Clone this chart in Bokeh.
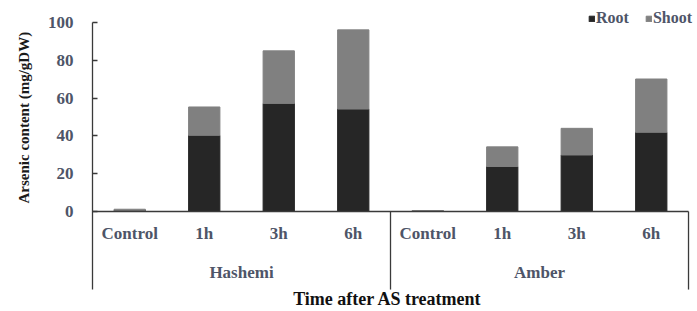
from bokeh.plotting import figure
from bokeh.models import Range1d, FixedTicker, Title, Legend, LegendItem, ColumnDataSource
from bokeh.core.properties import value
from bokeh.embed import file_html
from bokeh.resources import INLINE

# ---- data ----
cultivars = ["Hashemi", "Amber"]
times = ["Control", "1h", "3h", "6h"]
root_hashemi = [0.6, 40.3, 57.2, 54.2]
shoot_hashemi = [0.6, 15.0, 27.8, 41.9]
root_amber = [0.3, 23.8, 29.9, 41.9]
shoot_amber = [0.2, 10.4, 14.1, 28.2]
series = ["Root", "Shoot"]
y_ticks = [0, 20, 40, 60, 80, 100]
y_title = "Arsenic content (mg/gDW)"
x_title = "Time after AS treatment"

# ---- styles ----
colors = ["#262626", "#808080"]
FONT = "Liberation Serif"
LABEL_COLOR = "#4e5568"
AXIS_COLOR = "#3a3a3a"
LBL = "17px"
TTL = "18px"

n = len(times)
xs, labels = [], []
for g, c in enumerate(cultivars):
    for j, t in enumerate(times):
        xs.append(g * n + j + 0.5)
        labels.append(t)

source = ColumnDataSource(dict(
    x=xs,
    label=labels,
    Root=root_hashemi + root_amber,
    Shoot=shoot_hashemi + shoot_amber,
))

total = n * len(cultivars)
W, H = 697, 311
LEFT = 91
px_per_unit = (688 - LEFT) / total
x_end = (W - LEFT) / px_per_unit
py = (211 - 22) / 100.0
y_top = 211 / py
y_bot = -(H - 211) / py

p = figure(width=W, height=H,
           x_range=Range1d(0, x_end), y_range=Range1d(y_bot, y_top),
           output_backend="svg", toolbar_location=None, x_axis_type=None,
           min_border_left=LEFT, min_border_right=0, min_border_top=0, min_border_bottom=0)
p.outline_line_color = None
p.grid.grid_line_color = None

renderers = p.vbar_stack(series, x="x", width=0.42, source=source,
                         fill_color=colors, line_color=colors)

# y axis
ax = p.yaxis[0]
ax.ticker = FixedTicker(ticks=y_ticks)
ax.bounds = (-41.3, 100)
ax.major_tick_in = 5
ax.major_tick_out = 0
ax.minor_tick_line_color = None
ax.major_label_standoff = 19
ax.axis_line_color = AXIS_COLOR
ax.axis_line_width = 1.3
ax.major_tick_line_color = AXIS_COLOR
ax.major_tick_line_width = 1.3
ax.major_label_text_font = FONT
ax.major_label_text_font_style = "bold"
ax.major_label_text_font_size = LBL
ax.major_label_text_color = LABEL_COLOR

# y title (left-aligned so that it starts level with the zero line)
p.add_layout(Title(text=y_title, align="left", offset=H - 203, standoff=26,
                   text_font=FONT, text_font_style="bold", text_font_size="15px",
                   text_color="#1a1a1a"), "left")

# x axis line and group separators
p.segment(x0=[0], y0=[0], x1=[total], y1=[0], line_color=AXIS_COLOR, line_width=1.3)
seps = [n * (g + 1) for g in range(len(cultivars))]
p.segment(x0=seps, y0=[0] * len(seps), x1=seps, y1=[-41.3] * len(seps),
          line_color=AXIS_COLOR, line_width=1.3)

# category labels
p.text(x="x", y=-11.6, text="label", source=source, text_align="center", text_baseline="middle",
       text_font=value(FONT), text_font_style="bold", text_font_size=LBL, text_color=LABEL_COLOR)

# group labels
gx = [g * n + n / 2 for g in range(len(cultivars))]
p.text(x=gx, y=[-32.3] * len(gx), text=cultivars, text_align="center", text_baseline="middle",
       text_font=value(FONT), text_font_style="bold", text_font_size=LBL, text_color=LABEL_COLOR)

# x title
p.text(x=[total / 2 - 0.04], y=[-46.4], text=[x_title], text_align="center", text_baseline="middle",
       text_font=value(FONT), text_font_style="bold", text_font_size=TTL, text_color="#111111")

legend = Legend(items=[LegendItem(label=s, renderers=[r]) for s, r in zip(series, renderers)],
                orientation="horizontal", location="top_right",
                glyph_width=7, glyph_height=7, label_standoff=1, spacing=16,
                padding=0, margin=5, border_line_color=None, background_fill_alpha=0,
                label_text_font=FONT, label_text_font_style="bold", label_text_font_size="16px",
                label_text_color=LABEL_COLOR, label_height=26)
p.add_layout(legend)

open("out.html", "w").write(file_html(p, INLINE))
